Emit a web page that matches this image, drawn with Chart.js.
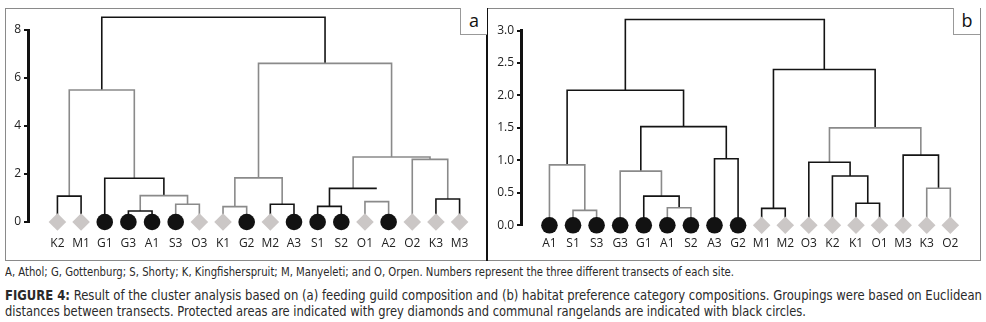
<!DOCTYPE html>
<html lang="en">
<head>
<meta charset="utf-8">
<title>Figure 4 cluster analysis</title>
<script src="https://cdn.jsdelivr.net/npm/chart.js@4.4.1/dist/chart.umd.min.js"></script>
<style>
  body { margin: 0; background: #fff; }
  #wrap { position: relative; width: 986px; height: 322px; overflow: hidden; font-family: "Open Sans", sans-serif; }
  .frame { position: absolute; left: 5px; top: 8px; width: 974px; height: 251px; border: 1px solid #8a8a8a; }
  .divider { position: absolute; left: 486px; top: 8px; width: 2px; height: 253px; background: #111; }
  canvas { position: absolute; }
  .tag { position: absolute; top: 8px; width: 26px; height: 26px; border-left: 1px solid #999; border-bottom: 1px solid #999;
         font-size: 18px; line-height: 24px; text-align: center; color: #111; background: #fff; }
  .txt { position: absolute; left: 5px; white-space: nowrap; transform-origin: 0 0; color: #2a2a2a;
         font-family: "Liberation Sans Narrow", "DejaVu Sans Condensed", sans-serif; }
</style>
</head>
<body>
<div id="wrap">
  <div class="frame"></div>
  <canvas id="chartA" width="482" height="252" style="left:5px;top:8px"></canvas>
  <canvas id="chartB" width="493" height="252" style="left:487px;top:8px"></canvas>
  <div class="divider"></div>
  <div class="tag" style="left:460px">a</div>
  <div class="tag" style="left:953px">b</div>
  <div class="txt" id="note" data-w="729" style="top:265px;font-size:11.5px">A, Athol; G, Gottenburg; S, Shorty; K, Kingfisherspruit; M, Manyeleti; and O, Orpen. Numbers represent the three different transects of each site.</div>
  <div class="txt" id="cap1" data-w="977" style="top:287px;font-size:13.5px"><b style="font-weight:600">FIGURE 4:</b> Result of the cluster analysis based on (a) feeding guild composition and (b) habitat preference category compositions. Groupings were based on Euclidean</div>
  <div class="txt" id="cap2" data-w="801" style="top:303px;font-size:13.5px">distances between transects. Protected areas are indicated with grey diamonds and communal rangelands are indicated with black circles.</div>
</div>

<script>
// (a) feeding guild composition
const leavesA = ['K2','M1','G1','G3','A1','S3','O3','K1','G2','M2','A3','S1','S2','O1','A2','O2','K3','M3'];
const siteA   = ['P','P','C','C','C','C','P','P','C','P','C','C','C','P','C','P','P','P'];
// [left node, right node, height]; nodes 0-17 are leaves, 18+ are earlier merges
const mergesA = [
  [0, 1, 1.08], [3, 4, 0.46], [5, 6, 0.74], [19, 20, 1.10], [2, 21, 1.82], [18, 22, 5.50],
  [7, 8, 0.64], [9, 10, 0.74], [24, 25, 1.84], [11, 12, 0.65], [13, 14, 0.85], [27, 28, 1.40],
  [16, 17, 0.96], [15, 30, 2.61], [29, 31, 2.71], [26, 32, 6.61], [23, 33, 8.53]
];
const yTicksA = [0, 2, 4, 6, 8];

// (b) habitat preference category compositions
const leavesB = ['A1','S1','S3','G3','G1','A1','S2','A3','G2','M1','M2','O3','K2','K1','O1','M3','K3','O2'];
const siteB   = ['C','C','C','C','C','C','C','C','C','P','P','P','P','P','P','P','P','P'];
const mergesB = [
  [1, 2, 0.23], [0, 18, 0.93], [5, 6, 0.27], [4, 20, 0.45], [3, 21, 0.835], [7, 8, 1.025],
  [22, 23, 1.52], [19, 24, 2.08], [9, 10, 0.26], [13, 14, 0.34], [12, 27, 0.76], [11, 28, 0.97],
  [16, 17, 0.57], [15, 30, 1.08], [29, 31, 1.50], [26, 32, 2.40], [25, 33, 3.17]
];
const yTicksB = [0, 0.5, 1, 1.5, 2, 2.5, 3];

// line tone per merge (1 dark, 0 grey), as printed
const toneA = [1,1,0,0,1,0,0,1,0,1,0,1,1,0,0,0,1];
const toneB = [0,0,0,1,0,1,1,1,1,1,1,1,0,1,0,1,1];
const openRightA = [11];   // this link has no right leg in the original
const DARK = '#141414', GREY = '#8a8a8a';

function linkSets(merges, n, tone, openRight) {
  const xs = [], ys = [];
  for (let i = 0; i < n; i++) { xs.push(i); ys.push(0); }
  return merges.map(([l, r, h], k) => {
    const pts = [{x: xs[l], y: ys[l]}, {x: xs[l], y: h}, {x: xs[r], y: h}];
    if (!openRight.includes(k)) pts.push({x: xs[r], y: ys[r]});
    xs.push((xs[l] + xs[r]) / 2);
    ys.push(h);
    return {
      type: 'line', data: pts, borderColor: tone[k] ? DARK : GREY, borderWidth: 1.6,
      pointRadius: 0, tension: 0, fill: false, clip: false, order: 1
    };
  });
}

function leafSet(leaves, site) {
  return {
    type: 'scatter',
    data: leaves.map((_, i) => ({x: i, y: 0})),
    pointStyle: site.map(s => s === 'C' ? 'circle' : 'rectRot'),
    pointRadius: site.map(s => s === 'C' ? 8.3 : 8.8),
    pointBackgroundColor: site.map(s => s === 'C' ? '#121212' : '#cbc7c6'),
    pointBorderWidth: 0,
    clip: false,
    order: 0
  };
}

const tickFont = {family: "'Open Sans', sans-serif", size: 12};

function makeChart(id, o) {
  return new Chart(document.getElementById(id), {
    type: 'line',
    data: {datasets: [...linkSets(o.merges, o.leaves.length, o.tone, o.openRight), leafSet(o.leaves, o.site)]},
    options: {
      responsive: false, animation: false, events: [],
      layout: {padding: {top: o.top, left: 0, right: 0, bottom: 0}},
      plugins: {legend: {display: false}, tooltip: {enabled: false}},
      scales: {
        x: {
          type: 'linear', min: o.xMin, max: o.xMax,
          afterBuildTicks: s => { s.ticks = o.leaves.map((_, i) => ({value: i})); },
          afterFit: s => { s.height = o.xAxisH; },
          grid: {display: false, drawTicks: false}, border: {display: false},
          ticks: {autoSkip: false, maxRotation: 0, padding: o.labelPad, font: tickFont, color: '#222',
                  callback: (v, i) => o.leaves[i]}
        },
        y: {
          min: 0, max: o.yMax,
          afterBuildTicks: s => { s.ticks = o.yTicks.map(v => ({value: v})); },
          afterFit: s => { s.width = o.yAxisW; },
          grid: {drawOnChartArea: false, tickLength: 4, color: '#111', lineWidth: 2},
          border: {color: '#111', width: 3},
          ticks: {padding: 3, font: tickFont, color: '#222', callback: o.fmt}
        }
      }
    }
  });
}

makeChart('chartA', {
  leaves: leavesA, site: siteA, merges: mergesA, tone: toneA, openRight: openRightA,
  yTicks: yTicksA, yMax: 8, xMin: -1.244, xMax: 17.787, top: 22, xAxisH: 38, yAxisW: 23, labelPad: 14,
  fmt: v => String(v)
});
makeChart('chartB', {
  leaves: leavesB, site: siteB, merges: mergesB, tone: toneB, openRight: [],
  yTicks: yTicksB, yMax: 3, xMin: -1.206, xMax: 17.886, top: 22.5, xAxisH: 34.7, yAxisW: 34, labelPad: 11,
  fmt: v => v.toFixed(1)
});

// squeeze the caption lines to the printed widths
document.querySelectorAll('.txt').forEach(el => {
  const w = el.getBoundingClientRect().width;
  el.style.transform = 'scaleX(' + (Number(el.dataset.w) / w) + ')';
});
</script>
</body>
</html>
